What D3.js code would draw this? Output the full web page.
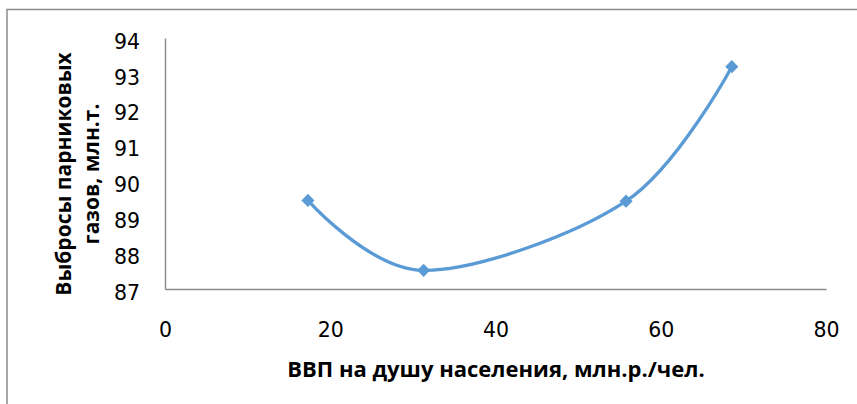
<!DOCTYPE html>
<html>
<head>
<meta charset="utf-8">
<script src="https://cdn.jsdelivr.net/npm/d3@7"></script>
<style>
  body { margin: 0; background: #fff; }
  text { fill: #000; }
</style>
</head>
<body>
<div id="chart"></div>
<script>
// data
const gdp = [17.3, 31.3, 55.8, 68.6]
const emissions = [89.47, 87.52, 89.45, 93.2]
const xTicks = [0, 20, 40, 60, 80]
const yTicks = [87, 88, 89, 90, 91, 92, 93, 94]
const xTitle = "ВВП на душу населения, млн.р./чел."
const yTitle = ["Выбросы парниковых", "газов, млн.т."]

const width = 857
const height = 404
const margin = {left: 165, top: 38, right: 31, bottom: 115}

const svg = d3.select("#chart")
  .append("svg")
  .attr("width", width)
  .attr("height", height)

svg.append("rect")
  .attr("width", width).attr("height", height)
  .attr("fill", "#fff")

// outer frame (right and bottom edges run off the picture)
svg.append("rect")
  .attr("x", 7).attr("y", 9.5)
  .attr("width", width + 20).attr("height", height + 20)
  .attr("fill", "none")
  .attr("stroke", "#8c8c8c")
  .attr("stroke-width", 1.5)

const x = d3.scaleLinear()
  .domain([0, 80])
  .range([margin.left, width - margin.right])

const y = d3.scaleLinear()
  .domain([87, 94])
  .range([height - margin.bottom, margin.top])

const tickFont = "'DejaVu Sans', sans-serif"

// axis bottom
const gx = svg.append("g")
  .attr("transform", `translate(0, ${y(87)})`)
  .call(d3.axisBottom(x).tickValues(xTicks).tickFormat(d3.format("d")).tickSize(0).tickPadding(33))
gx.select(".domain").attr("stroke", "#8c8c8c").attr("stroke-width", 1.5)
gx.selectAll("text").style("font-size", "20.5px").style("font-family", tickFont)

// left axis
const gy = svg.append("g")
  .attr("transform", `translate(${x(0)}, 0)`)
  .call(d3.axisLeft(y).tickValues(yTicks).tickFormat(d3.format("d")).tickSize(0).tickPadding(25))
gy.select(".domain").attr("stroke", "#8c8c8c").attr("stroke-width", 1.5)
gy.selectAll("text")
  .attr("dy", "0.5em")
  .style("font-size", "20.5px").style("font-family", tickFont)

// titles
svg.append("text")
  .attr("x", 496).attr("y", 376.5)
  .attr("text-anchor", "middle")
  .style("font-family", "'Open Sans', sans-serif")
  .style("font-size", "22px").style("font-weight", "bold")
  .text(xTitle)

yTitle.forEach((t, i) => {
  svg.append("text")
    .attr("transform", `translate(${71 + i * 28}, 174) rotate(-90)`)
    .attr("text-anchor", "middle")
    .style("font-family", "'Open Sans', sans-serif")
    .style("font-size", "21px").style("font-weight", "bold")
    .text(t)
})

const pts = gdp.map((g, i) => [g, emissions[i]])

// smoothed line
svg.append("path")
  .datum(pts)
  .attr("fill", "none")
  .attr("stroke", "#5b9bd5")
  .attr("stroke-width", 3.3)
  .attr("d", d3.line()
    .x(d => x(d[0]))
    .y(d => y(d[1]))
    .curve(d3.curveCatmullRom.alpha(0))
  )

// diamond markers
svg.selectAll(".mk")
  .data(pts)
  .join("path")
  .attr("class", "mk")
  .attr("transform", d => `translate(${x(d[0])}, ${y(d[1])})`)
  .attr("d", d3.symbol(d3.symbolDiamond2, 110))
  .attr("fill", "#5b9bd5")
</script>
</body>
</html>
